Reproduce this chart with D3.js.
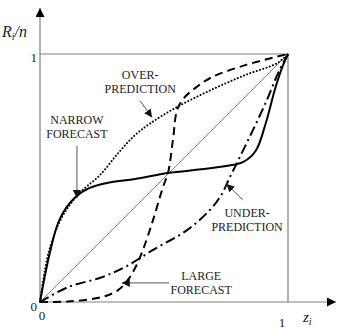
<!DOCTYPE html>
<html><head><meta charset="utf-8">
<script src="https://cdn.jsdelivr.net/npm/d3@7"></script>
<style>body{margin:0;background:#fff}svg{display:block}svg text{font-family:'Liberation Serif',Tinos,'Times New Roman',Times,serif !important}</style>
</head><body>
<script>
// data: [z, R/n]
const narrowForecast = [[0,0],[0.04,0.2],[0.08,0.335],[0.14,0.42],[0.2,0.46],[0.28,0.482],[0.383,0.496],[0.516,0.52],[0.65,0.535],[0.75,0.548],[0.82,0.565],[0.87,0.61],[0.91,0.72],[0.948,0.86],[0.98,0.955],[1,1]];
const overPrediction = [[0,0],[0.035,0.2],[0.09,0.345],[0.16,0.44],[0.24,0.51],[0.315,0.6],[0.38,0.67],[0.444,0.72],[0.552,0.786],[0.69,0.855],[0.827,0.915],[0.956,0.963],[1,1]];
const largeForecast = [[0,0],[0.113,0.002],[0.25,0.02],[0.315,0.048],[0.355,0.09],[0.385,0.14],[0.415,0.21],[0.456,0.331],[0.496,0.464],[0.516,0.52],[0.536,0.653],[0.553,0.775],[0.58,0.822],[0.633,0.868],[0.69,0.905],[0.827,0.955],[1,1]];
const underPrediction = [[0,0],[0.113,0.06],[0.25,0.1],[0.343,0.141],[0.456,0.21],[0.593,0.29],[0.685,0.371],[0.73,0.43],[0.766,0.504],[0.806,0.585],[0.859,0.694],[0.915,0.815],[0.96,0.923],[1,1]];
const diagonal = [[0,0],[1,1]];
const xTicks = ["0","1"];
const yTicks = ["0","1"];
const labels = [
  {lines:["OVER-","PREDICTION"], z:0.404, r:0.9},
  {lines:["NARROW","FORECAST"], z:0.149, r:0.716},
  {lines:["UNDER-","PREDICTION"], z:0.835, r:0.343},
  {lines:["LARGE","FORECAST"], z:0.65, r:0.09}
];
const arrows = [
  {from:[0.403,0.812], to:[0.452,0.744]},
  {from:[0.149,0.63], to:[0.149,0.419]},
  {from:[0.818,0.411], to:[0.752,0.476]},
  {from:[0.52,0.077], to:[0.33,0.077]}
];

const W=358,H=329;
const x=d3.scaleLinear().domain([0,1]).range([40,288]);
const y=d3.scaleLinear().domain([0,1]).range([302,54]);
const svg=d3.select("body").append("svg").attr("width",W).attr("height",H);
const defs=svg.append("defs");
defs.append("marker").attr("id","ah").attr("viewBox","0 0 10 10").attr("refX",10).attr("refY",5)
  .attr("markerWidth",8).attr("markerHeight",8).attr("markerUnits","userSpaceOnUse").attr("orient","auto")
  .append("path").attr("d","M0,0L10,5L0,10Z").attr("fill","#111");
defs.append("marker").attr("id","axh").attr("viewBox","0 0 10 10").attr("refX",10).attr("refY",5)
  .attr("markerWidth",10).attr("markerHeight",9).attr("markerUnits","userSpaceOnUse").attr("orient","auto")
  .append("path").attr("d","M0,0L10,5L0,10Z").attr("fill","#000");

const gray="#808080";
svg.append("line").attr("x1",x(0)).attr("y1",y(0)).attr("x2",x(0)).attr("y2",8)
  .attr("stroke",gray).attr("stroke-width",1.2).attr("marker-end","url(#axh)");
svg.append("line").attr("x1",x(0)).attr("y1",y(0)).attr("x2",336).attr("y2",y(0))
  .attr("stroke",gray).attr("stroke-width",1.2).attr("marker-end","url(#axh)");
svg.append("path").attr("d",`M${x(0)},${y(1)}H${x(1)}V${y(0)}`).attr("fill","none").attr("stroke",gray).attr("stroke-width",1.2);

const line=d3.line().x(d=>x(d[0])).y(d=>y(d[1]));
const cline=d3.line().x(d=>x(d[0])).y(d=>y(d[1])).curve(d3.curveCatmullRom.alpha(0.5));
svg.append("path").attr("d",line(diagonal)).attr("stroke","#666").attr("stroke-width",0.8).attr("fill","none");
svg.append("path").attr("d",cline(narrowForecast)).attr("stroke","#000").attr("stroke-width",2).attr("fill","none");
svg.append("path").attr("d",cline(overPrediction)).attr("stroke","#000").attr("stroke-width",2).attr("stroke-dasharray","0.1 3.3").attr("stroke-linecap","round").attr("fill","none");
svg.append("path").attr("d",cline(largeForecast)).attr("stroke","#000").attr("stroke-width",2).attr("stroke-dasharray","8 5").attr("fill","none");
svg.append("path").attr("d",cline(underPrediction)).attr("stroke","#000").attr("stroke-width",2).attr("stroke-dasharray","10 4 2 4").attr("fill","none");

arrows.forEach(a=>{
  svg.append("line").attr("x1",x(a.from[0])).attr("y1",y(a.from[1])).attr("x2",x(a.to[0])).attr("y2",y(a.to[1]))
    .attr("stroke","#555").attr("stroke-width",1).attr("marker-end","url(#ah)");
});
labels.forEach(l=>{
  const t=svg.append("text").attr("text-anchor","middle").attr("font-size",12).attr("fill","#222");
  l.lines.forEach((s,i)=>t.append("tspan").attr("x",x(l.z)).attr("y",y(l.r)+i*14).text(s));
});
function tick(tx,ty,s,anchor){svg.append("text").attr("x",tx).attr("y",ty).attr("text-anchor",anchor).attr("font-size",13).attr("fill","#222").text(s);}
tick(x(0)+2,320,xTicks[0],"middle");
tick(x(1)-6,327,xTicks[1],"middle");
tick(37,y(0)+9,yTicks[0],"end");
tick(37,y(1)+8,yTicks[1],"end");
const yt=svg.append("text").attr("x",2).attr("y",37).attr("font-size",16).attr("font-style","italic").attr("fill","#222");
yt.append("tspan").text("R");
yt.append("tspan").attr("font-size",10).attr("dy",3).text("i");
yt.append("tspan").attr("dy",-3).text("/n");
const xt=svg.append("text").attr("x",303).attr("y",322).attr("font-size",15).attr("font-style","italic").attr("fill","#222");
xt.append("tspan").text("z");
xt.append("tspan").attr("font-size",10).attr("dy",3).text("i");
</script>
</body></html>
